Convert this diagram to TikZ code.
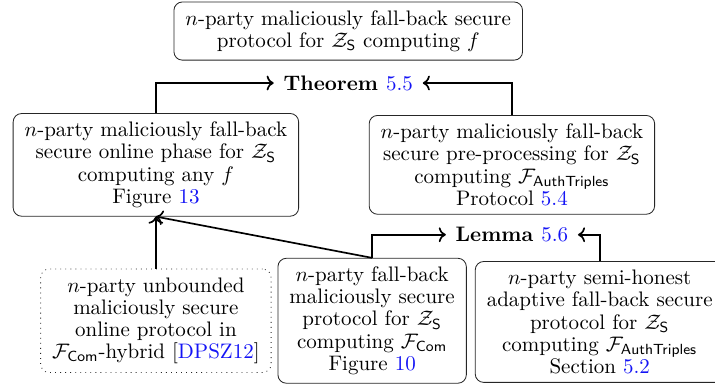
\documentclass[tikz,border=0pt]{standalone}
\usepackage{amsmath, amssymb}
\usepackage{xcolor}
\usepackage{tikz}
\usetikzlibrary{shapes, arrows.meta, positioning, calc}
\definecolor{refblue}{RGB}{20,20,245}
\newcommand{\ZS}{\mathcal{Z}_{\mathsf{S}}}
\newcommand{\Fc}[1]{\mathcal{F}_{\mathsf{#1}}}
\newcommand{\rf}[1]{\textcolor{refblue}{#1}}

\begin{document}
\begin{tikzpicture}[
  box/.style={rectangle, rounded corners=4pt, draw=black!85, align=center, inner xsep=5.5pt, inner ysep=4pt, font={\fontsize{10}{10.6}\selectfont}},
  dotbox/.style={box, dotted},
  res/.style={font=\bfseries, inner sep=4.5pt},
  arr/.style={->, thick}
]
\useasboundingbox (0,0) rectangle (11.97,-6.445);
% Top: final protocol and theorem
\node[box] (final) at (5.83,-0.52) {$n$-party maliciously fall-back secure\\ protocol for $\ZS$ computing $f$};
\node[res] (thm) at (5.83,-1.39) {Theorem \rf{\mdseries 5.5}};

% Middle row
\node[box] (online) at (2.61,-2.76) {$n$-party maliciously fall-back\\ secure online phase for $\ZS$\\ computing any $f$\\ Figure \rf{13}};
\node[box] (prep) at (8.57,-2.76) {$n$-party maliciously fall-back\\ secure pre-processing for $\ZS$\\ computing $\Fc{AuthTriples}$\\ Protocol \rf{5.4}};
\node[res] (lem) at (8.57,-3.93) {Lemma \rf{\mdseries 5.6}};

% Bottom row
\node[dotbox] (dpsz) at (2.61,-5.37) {$n$-party unbounded\\ maliciously secure\\ online protocol in\\ $\Fc{Com}$-hybrid [\rf{DPSZ12}]};
\node[box] (fcom) at (6.23,-5.37) {$n$-party fall-back\\ maliciously secure\\ protocol for $\ZS$\\ computing $\Fc{Com}$\\ Figure \rf{10}};
\node[box] (semi) at (10.04,-5.39) {$n$-party semi-honest\\ adaptive fall-back secure\\ protocol for $\ZS$\\ computing $\Fc{AuthTriples}$\\ Section \rf{5.2}};

\draw[arr] (online) |- (thm);
\draw[arr] (prep) |- (thm);
\draw[arr] (fcom) |- (lem);
\draw[arr] (semi) |- (lem);
\draw[arr] (dpsz) -- (online);
\draw[arr] (fcom.north) -- (online.south);
\end{tikzpicture}
\end{document}
